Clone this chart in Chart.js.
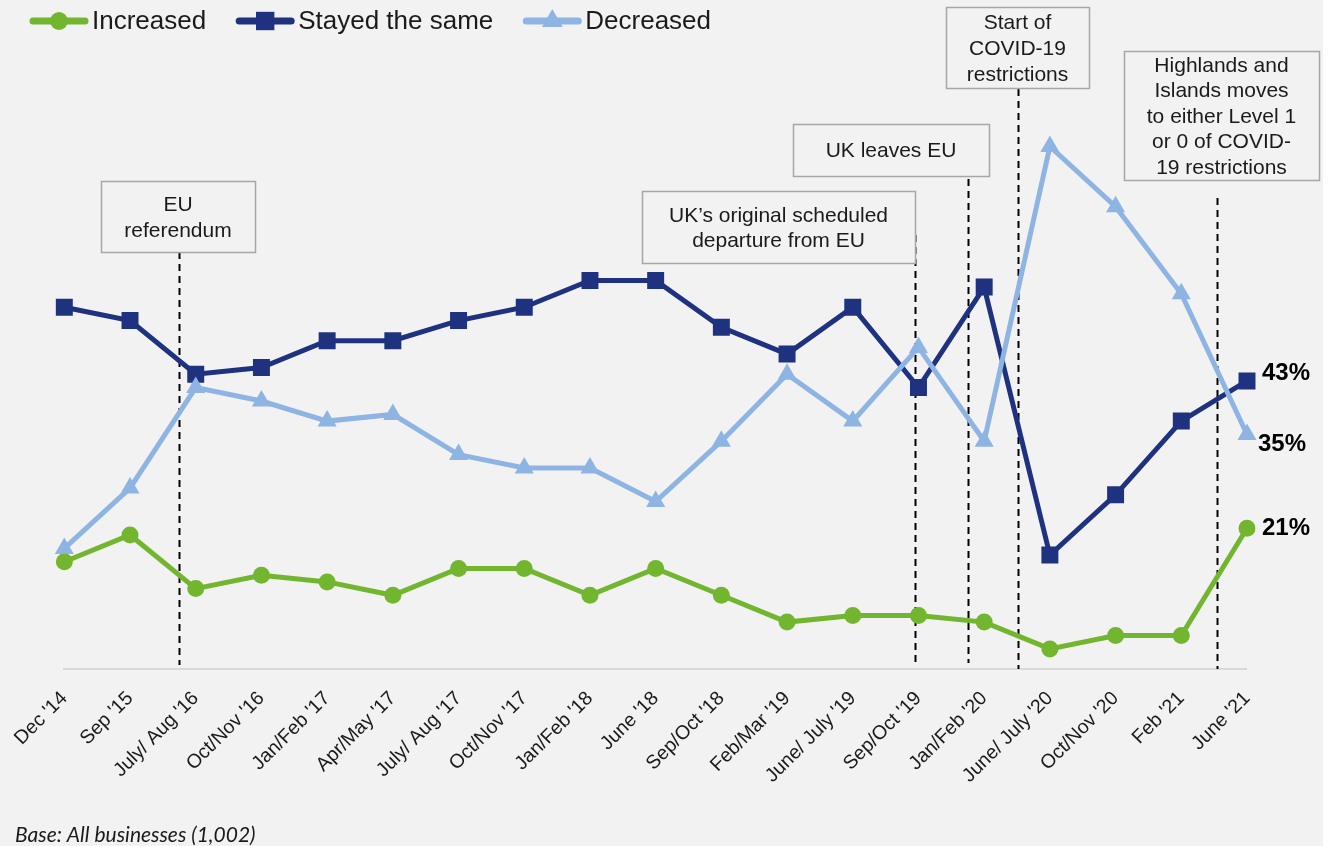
<!DOCTYPE html>
<html>
<head>
<meta charset="utf-8">
<title>Business expectations over time</title>
<script src="https://cdn.jsdelivr.net/npm/chart.js@4.4.1/dist/chart.umd.min.js"></script>
<style>
  html, body { margin: 0; padding: 0; background: #ffffff; }
  #wrap { width: 1328px; height: 846px; position: relative; }
  canvas { display: block; }
</style>
</head>
<body>
<div id="wrap"><canvas id="c" width="1328" height="846"></canvas></div>
<script>
// Survey waves
const periods = ["Dec '14", "Sep '15", "July/ Aug '16", "Oct/Nov '16", "Jan/Feb '17", "Apr/May '17",
  "July/ Aug '17", "Oct/Nov '17", "Jan/Feb '18", "June '18", "Sep/Oct '18", "Feb/Mar '19",
  "June/ July '19", "Sep/Oct '19", "Jan/Feb '20", "June/ July '20", "Oct/Nov '20", "Feb '21", "June '21"];

// Share of businesses (%)
const increased  = [16, 20, 12, 14, 13, 11, 15, 15, 11, 15, 11, 7, 8, 8, 7, 3, 5, 5, 21];
const stayedSame = [54, 52, 44, 45, 49, 49, 52, 54, 58, 58, 51, 47, 54, 42, 57, 17, 26, 37, 43];
const decreased  = [18, 27, 42, 40, 37, 38, 32, 30, 30, 25, 34, 44, 37, 48, 34, 78, 69, 56, 35];

// Key events, placed between survey waves (fractional category index)
const eventLabels = [
  ["EU", "referendum"],
  ["UK\u2019s original scheduled", "departure from EU"],
  ["UK leaves EU"],
  ["Start of", "COVID-19", "restrictions"],
  ["Highlands and", "Islands moves", "to either Level 1", "or 0 of COVID-", "19 restrictions"]
];
const eventAt = [1.738, 12.949, 13.755, 14.516, 17.545];

const baseNote = "Base: All businesses (1,002)";

const FONT = '"Liberation Sans", Arial, Helvetica, sans-serif';
const TEXT = '#1a1a1a';

// Box and leader-line geometry for each event note
const noteLayout = [
  { box: [101, 181, 154, 71],  lines: [205, 231],                 lineTop: 252, lineBottom: 665 },
  { box: [642, 191, 273, 72],  lines: [216, 241],                 lineTop: 235, lineBottom: 663 },
  { box: [793, 124, 196, 52],  lines: [151],                      lineTop: 179, lineBottom: 663 },
  { box: [946, 7, 143, 81],    lines: [23, 49, 75],               lineTop: 89,  lineBottom: 669 },
  { box: [1124, 51, 195, 129], lines: [66, 91, 117, 142, 168],    lineTop: 198, lineBottom: 669 }
];

const backdrop = {
  id: 'backdrop',
  beforeDraw(chart) {
    const ctx = chart.ctx;
    ctx.save();
    ctx.fillStyle = '#ffffff';
    ctx.fillRect(0, 0, chart.width, chart.height);
    ctx.fillStyle = '#f2f2f2';
    ctx.fillRect(0, 0, 1323, chart.height);
    ctx.restore();
  }
};

const eventNotes = {
  id: 'eventNotes',
  beforeDatasetsDraw(chart) {
    const ctx = chart.ctx;
    const xs = chart.scales.x;
    ctx.save();
    ctx.strokeStyle = '#000000';
    ctx.lineWidth = 2;
    ctx.setLineDash([7, 5]);
    eventAt.forEach((pos, i) => {
      const x = Math.round(xs.getPixelForValue(pos)) + 0.5;
      const l = noteLayout[i];
      ctx.beginPath();
      ctx.moveTo(x, l.lineTop);
      ctx.lineTo(x, l.lineBottom);
      ctx.stroke();
    });
    ctx.restore();
  },
  afterDatasetsDraw(chart) {
    const ctx = chart.ctx;
    ctx.save();
    eventLabels.forEach((lines, i) => {
      const l = noteLayout[i];
      const [bx, by, bw, bh] = l.box;
      ctx.fillStyle = '#f2f2f2';
      ctx.fillRect(bx, by, bw, bh);
      ctx.strokeStyle = '#a6a6a6';
      ctx.lineWidth = 1.5;
      ctx.setLineDash([]);
      ctx.strokeRect(bx + 0.5, by + 0.5, bw, bh);
      ctx.fillStyle = TEXT;
      ctx.font = '21px ' + FONT;
      ctx.textAlign = 'center';
      ctx.textBaseline = 'middle';
      lines.forEach((t, k) => ctx.fillText(t, bx + bw / 2, l.lines[k]));
    });
    ctx.restore();
  }
};

// Value tags next to the latest wave
const endTags = {
  id: 'endTags',
  afterDatasetsDraw(chart) {
    const ctx = chart.ctx;
    const shift = { 'Increased': 0, 'Stayed the same': -8, 'Decreased': 10 };
    const gap = { 'Increased': 15, 'Stayed the same': 15, 'Decreased': 11 };
    ctx.save();
    ctx.font = 'bold 24px ' + FONT;
    ctx.fillStyle = '#000000';
    ctx.textAlign = 'left';
    ctx.textBaseline = 'middle';
    chart.data.datasets.forEach((ds, i) => {
      const meta = chart.getDatasetMeta(i);
      const last = meta.data.length - 1;
      const pt = meta.data[last];
      ctx.fillText(ds.data[last] + '%', pt.x + gap[ds.label], pt.y + shift[ds.label]);
    });
    ctx.restore();
  }
};

// Line-and-marker legend along the top
const topLegend = {
  id: 'topLegend',
  afterDraw(chart) {
    const ctx = chart.ctx;
    const order = ['Increased', 'Stayed the same', 'Decreased'];
    const sizes = { 'Increased': 9, 'Stayed the same': 13, 'Decreased': 12 };
    let x = 30;
    const y = 21;
    ctx.save();
    ctx.font = '26px ' + FONT;
    ctx.textBaseline = 'middle';
    order.forEach(name => {
      const ds = chart.data.datasets.find(d => d.label === name);
      ctx.strokeStyle = ds.borderColor;
      ctx.fillStyle = ds.borderColor;
      ctx.lineWidth = 7;
      ctx.lineCap = 'round';
      ctx.beginPath();
      ctx.moveTo(x + 3, y);
      ctx.lineTo(x + 55, y);
      ctx.stroke();
      Chart.helpers.drawPoint(ctx, { pointStyle: ds.pointStyle, radius: sizes[name], rotation: 0, borderWidth: 0 }, x + 29, y);
      ctx.fillStyle = TEXT;
      ctx.fillText(name, x + 62, y + 1);
      x += 62 + ctx.measureText(name).width + 30;
    });
    ctx.restore();
  }
};

const footNote = {
  id: 'footNote',
  afterDraw(chart) {
    const ctx = chart.ctx;
    ctx.save();
    ctx.font = 'italic 21px Lato, "Open Sans", sans-serif';
    ctx.fillStyle = TEXT;
    ctx.textAlign = 'left';
    ctx.textBaseline = 'alphabetic';
    ctx.fillText(baseNote, 15, 842);
    ctx.restore();
  }
};

new Chart(document.getElementById('c'), {
  type: 'line',
  data: {
    labels: periods,
    datasets: [
      { label: 'Increased', data: increased, order: 2,
        borderColor: '#72b62f', backgroundColor: '#72b62f', borderWidth: 5,
        pointStyle: 'circle', pointRadius: 8.5, pointBorderWidth: 0, pointBackgroundColor: '#72b62f' },
      { label: 'Stayed the same', data: stayedSame, order: 1,
        borderColor: '#1f3280', backgroundColor: '#1f3280', borderWidth: 5,
        pointStyle: 'rect', pointRadius: 12, pointBorderWidth: 0, pointBackgroundColor: '#1f3280' },
      { label: 'Decreased', data: decreased, order: 0,
        borderColor: '#8db4e2', backgroundColor: '#8db4e2', borderWidth: 5,
        pointStyle: 'triangle', pointRadius: 11, pointBorderWidth: 0, pointBackgroundColor: '#8db4e2' }
    ]
  },
  options: {
    responsive: false,
    animation: false,
    devicePixelRatio: 1,
    layout: { padding: { top: 66, left: 64, right: 81, bottom: 0 } },
    plugins: { legend: { display: false }, tooltip: { enabled: false } },
    elements: { line: { tension: 0 } },
    scales: {
      x: {
        type: 'category',
        offset: false,
        grid: { display: false, drawTicks: false },
        border: { display: true, color: '#d9d9d9', width: 2 },
        ticks: {
          autoSkip: false, minRotation: 45, maxRotation: 45, padding: 18,
          color: TEXT, font: { family: FONT, size: 19.5 }
        },
        afterFit(scale) { scale.height = 177; }
      },
      y: { display: false, min: 0, max: 90 }
    }
  },
  plugins: [backdrop, eventNotes, endTags, topLegend, footNote]
});
</script>
</body>
</html>
